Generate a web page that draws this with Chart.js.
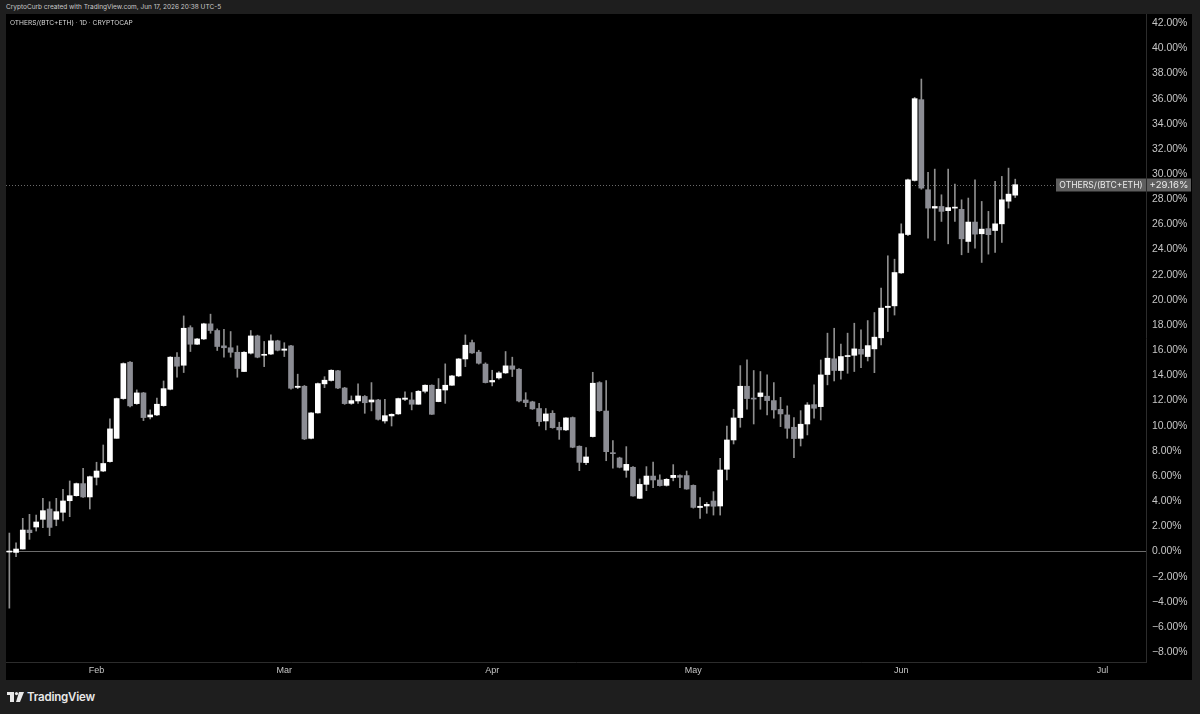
<!DOCTYPE html>
<html>
<head>
<meta charset="utf-8">
<title>OTHERS/(BTC+ETH) 1D</title>
<script src="https://cdn.jsdelivr.net/npm/chart.js@4.4.1/dist/chart.umd.min.js"></script>
<style>
  html, body {
    margin: 0;
    padding: 0;
    width: 1200px;
    height: 714px;
    overflow: hidden;
    background: #1e1e1e;
    font-family: Inter, 'Noto Sans', sans-serif;
  }
  #credit {
    position: absolute;
    left: 6px;
    top: 3px;
    font-size: 6.5px;
    color: #c9c9c9;
    white-space: nowrap;
  }
  #panel {
    position: absolute;
    left: 6px;
    top: 14px;
    width: 1186px;
    height: 666px;
    background: #000;
  }
  #symbol {
    position: absolute;
    left: 4px;
    top: 5px;
    font-size: 6.6px;
    color: #dcdcdc;
    white-space: nowrap;
    z-index: 2;
  }
  #footer {
    position: absolute;
    left: 7px;
    top: 690px;
    height: 14px;
    display: flex;
    align-items: center;
    gap: 3px;
    color: #e8e8e8;
    font-size: 11.5px;
    font-weight: 600;
    letter-spacing: -0.2px;
  }
</style>
</head>
<body>
<div id="credit">CryptoCurb created with TradingView.com, Jun 17, 2026 20:38 UTC-5</div>
<div id="panel">
  <div id="symbol">OTHERS/(BTC+ETH) · 1D · CRYPTOCAP</div>
  <canvas id="chart"></canvas>
</div>
<div id="footer">
  <svg width="17" height="10" viewBox="0 0 17 10">
    <rect x="0" y="0" width="7" height="3" fill="#e8e8e8"/>
    <rect x="3" y="0" width="4" height="10" fill="#e8e8e8"/>
    <circle cx="9.5" cy="1.6" r="1.6" fill="#e8e8e8"/>
    <polygon points="12,0 17,0 13,10 9,10" fill="#e8e8e8"/>
  </svg>
  <span>TradingView</span>
</div>
<script>
// daily slots, Jan 19 -> Jul 7 (empty space on the right like TV)
const startDay = Date.UTC(2026, 0, 19);
const slotCount = 170;
const monthNames = ['Jan', 'Feb', 'Mar', 'Apr', 'May', 'Jun', 'Jul', 'Aug', 'Sep', 'Oct', 'Nov', 'Dec'];
const yTicks = [-8, -6, -4, -2, 0, 2, 4, 6, 8, 10, 12, 14, 16, 18, 20, 22, 24, 26, 28, 30, 32, 34, 36, 38, 40, 42];

const dates = [];
for (let i = 0; i < slotCount; i++) {
  dates.push(new Date(startDay + i * 86400000).toISOString().slice(0, 10));
}

// OHLC in % change (Jan 19 .. Jun 18)
const opens = [
  0, -0.07, 0.2, 1.71, 1.95, 2.56, 3.38, 2.56, 3.12, 4.04,
  4.44, 5.4, 4.34, 5.9, 6.4, 7.15, 9.0, 12.16, 15.05, 11.76,
  12.61, 10.7, 10.86, 11.6, 12.9, 15.45, 14.81, 17.8, 16.48, 16.9,
  18.1, 17.57, 16.35, 16.2, 15.84, 14.31, 15.77, 17.14, 15.6, 15.7,
  16.75, 16.0, 16.35, 13.05, 13.14, 9.0, 11.02, 13.33, 13.6, 14.37,
  13.0, 11.78, 11.97, 12.33, 11.89, 12.05, 10.38, 10.78, 10.94, 12.1,
  12.05, 11.71, 12.74, 13.22, 11.92, 12.84, 13.22, 13.96, 15.31, 16.61,
  15.85, 14.9, 13.48, 13.8, 14.2, 14.76, 14.49, 12.05, 11.9, 11.37,
  10.38, 10.99, 9.88, 9.67, 10.65, 8.37, 7.07, 9.14, 13.43, 11.17,
  7.85, 7.44, 6.46, 6.7, 4.23, 5.34, 6.0, 5.69, 5.26, 5.88,
  6.04, 6.04, 5.26, 3.5, 3.62, 4.02, 3.62, 6.54, 8.87, 10.65,
  13.14, 12.2, 12.32, 12.35, 12.0, 11.3, 10.86, 9.88, 9.0, 10.14,
  11.68, 11.52, 14.07, 15.32, 14.39, 15.5, 15.6, 16.08, 15.5, 16.11,
  16.99, 19.4, 19.53, 22.15, 25.2, 29.5, 35.92, 28.76, 27.3, 27.43,
  27.1, 27.3, 27.2, 24.65, 26.19, 25.26, 25.67, 25.52, 26.05, 27.85,
  28.33,
];
const highs = [
  1.47, 0.7, 2.64, 2.96, 2.9, 4.23, 3.96, 4.23, 4.95, 5.61,
  5.45, 6.62, 6.0, 7.1, 8.47, 10.54, 12.2, 15.0, 15.1, 12.85,
  12.65, 11.26, 12.19, 13.56, 15.5, 15.82, 18.73, 17.95, 16.95, 18.15,
  18.87, 17.7, 17.67, 17.49, 16.35, 15.9, 17.57, 17.2, 16.7, 17.22,
  16.8, 16.6, 16.4, 14.1, 13.2, 11.05, 13.4, 13.9, 14.45, 14.4,
  13.05, 12.37, 13.33, 12.4, 13.43, 12.1, 12.1, 10.95, 12.2, 12.69,
  12.63, 12.8, 13.25, 13.25, 13.75, 14.92, 14.0, 15.35, 17.22, 16.8,
  16.0, 15.0, 14.41, 14.3, 15.9, 15.45, 14.55, 12.63, 11.95, 11.79,
  11.37, 11.2, 10.28, 10.65, 10.7, 8.4, 8.26, 14.25, 13.5, 13.59,
  8.82, 7.5, 8.34, 6.75, 5.77, 6.75, 7.12, 6.1, 5.8, 6.91,
  6.1, 6.4, 5.3, 4.28, 3.9, 4.76, 7.41, 9.98, 11.31, 14.78,
  15.23, 14.39, 14.31, 14.04, 13.43, 12.26, 11.58, 10.65, 11.2, 11.84,
  13.25, 15.23, 17.36, 17.75, 16.5, 17.36, 18.15, 17.62, 18.36, 19.0,
  20.94, 23.51, 23.24, 26.05, 29.6, 36.1, 37.56, 30.14, 30.4, 28.36,
  30.4, 29.21, 27.96, 28.1, 29.55, 27.83, 27.04, 29.42, 29.82, 30.48,
  29.6,
];
const lows = [
  -4.5, -0.4, 0.2, 0.97, 1.63, 1.9, 1.26, 2.05, 2.43, 2.77,
  4.4, 4.3, 3.38, 5.29, 6.35, 7.1, 9.0, 12.1, 11.5, 11.7,
  10.41, 10.54, 10.8, 11.55, 12.85, 13.86, 14.23, 15.9, 16.45, 16.85,
  17.35, 15.98, 15.45, 15.45, 13.86, 14.3, 15.7, 15.4, 14.7, 15.65,
  15.95, 15.5, 12.9, 12.95, 8.9, 8.95, 11.0, 13.03, 13.55, 12.95,
  11.7, 11.7, 11.78, 10.99, 11.18, 10.45, 10.2, 9.98, 10.9, 12.0,
  11.26, 11.7, 12.6, 10.9, 11.9, 11.78, 13.2, 13.9, 14.7, 15.75,
  14.9, 13.4, 13.17, 13.7, 14.15, 13.91, 11.9, 11.52, 11.3, 9.98,
  9.67, 9.8, 8.92, 9.6, 8.25, 6.43, 6.9, 9.1, 11.15, 7.22,
  6.62, 6.65, 5.9, 4.4, 4.2, 4.84, 5.08, 5.2, 5.2, 5.62,
  5.08, 4.95, 3.45, 2.64, 3.04, 2.9, 2.9, 5.69, 8.55, 9.88,
  11.31, 10.14, 11.31, 10.86, 10.6, 9.93, 9.0, 7.46, 8.39, 9.27,
  10.6, 10.46, 13.25, 13.56, 13.7, 14.17, 14.31, 14.62, 15.15, 14.22,
  16.43, 17.49, 18.8, 22.1, 25.1, 29.45, 28.8, 24.91, 24.73, 26.24,
  24.46, 26.24, 23.59, 23.77, 24.12, 22.98, 23.64, 23.77, 24.57, 27.3,
  28.14,
];
const closes = [
  0.02, 0.2, 1.71, 1.5, 2.35, 3.25, 1.92, 3.17, 4.02, 4.44,
  5.4, 4.34, 5.95, 6.4, 7.0, 9.75, 12.16, 14.94, 11.58, 12.61,
  10.65, 10.86, 11.71, 12.95, 15.45, 14.73, 17.75, 16.48, 16.9, 18.1,
  17.57, 16.3, 16.2, 15.84, 14.55, 15.84, 17.14, 15.45, 15.65, 16.75,
  16.0, 16.1, 12.98, 13.14, 8.95, 11.02, 13.35, 13.62, 14.41, 13.0,
  11.76, 12.0, 12.37, 11.83, 12.05, 10.51, 10.8, 10.91, 12.16, 12.2,
  11.71, 12.74, 13.22, 10.91, 12.9, 13.22, 13.96, 15.31, 16.4, 15.79,
  14.97, 13.43, 13.6, 14.2, 14.76, 14.49, 11.97, 11.84, 11.34, 10.33,
  10.94, 9.85, 9.67, 10.62, 8.29, 7.09, 7.52, 13.38, 11.2, 7.94,
  7.78, 6.7, 6.93, 4.42, 5.34, 6.0, 5.69, 5.24, 5.74, 6.06,
  5.9, 4.97, 3.51, 3.6, 3.75, 3.6, 6.48, 8.87, 10.62, 13.14,
  12.16, 12.12, 12.61, 12.0, 11.26, 10.94, 9.8, 8.98, 10.12, 11.65,
  11.39, 14.04, 15.37, 14.39, 15.5, 15.58, 16.11, 15.69, 16.37, 17.04,
  19.35, 19.5, 22.18, 25.26, 29.55, 36.0, 28.89, 27.3, 27.43, 27.04,
  27.34, 27.35, 24.86, 26.19, 25.23, 25.63, 25.19, 26.05, 27.96, 28.41,
  29.16,
];

const upColor = '#ffffff';
const downColor = '#8c8d94';
const wickColor = '#8e8e8e';

const bodies = opens.map((o, i) => [o, closes[i]]);
const wicks = lows.map((l, i) => [l, highs[i]]);
const bodyColors = closes.map((c, i) => (c >= opens[i] ? upColor : downColor));

const fmtPct = (v) => (v < 0 ? '\u2212' : '') + Math.abs(v).toFixed(2) + '%';

// dotted last-price line + the two grey tags on the price scale
const lastPrice = {
  id: 'lastPrice',
  beforeDatasetsDraw(chart) {
    const { ctx, chartArea, scales } = chart;
    const py = Math.round(scales.y.getPixelForValue(closes[closes.length - 1])) + 0.5;
    ctx.save();
    ctx.strokeStyle = '#6a6a6a';
    ctx.lineWidth = 1;
    ctx.setLineDash([1, 2]);
    ctx.beginPath();
    ctx.moveTo(chartArea.left, py);
    ctx.lineTo(chartArea.right, py);
    ctx.stroke();
    ctx.restore();
  },
  afterDraw(chart) {
    const { ctx, chartArea, scales } = chart;
    const last = closes[closes.length - 1];
    const py = Math.round(scales.y.getPixelForValue(last));
    ctx.save();
    ctx.fillStyle = '#5e5e5e';
    ctx.fillRect(chartArea.right - 90, py - 6.5, 90, 13);
    ctx.fillRect(chartArea.right + 1, py - 6.5, 44, 13);
    ctx.fillStyle = '#ececec';
    ctx.font = '8.6px Inter, "Noto Sans", sans-serif';
    ctx.textBaseline = 'middle';
    ctx.textAlign = 'center';
    ctx.fillText('OTHERS/(BTC+ETH)', chartArea.right - 45, py + 0.5);
    ctx.font = '9.6px Inter, "Noto Sans", sans-serif';
    ctx.fillText('+' + last.toFixed(2) + '%', chartArea.right + 23, py + 0.5);
    ctx.restore();
  },
};

new Chart(document.getElementById('chart'), {
  type: 'bar',
  data: {
    labels: dates,
    datasets: [
      {
        label: 'Body',
        data: bodies,
        backgroundColor: bodyColors,
        barThickness: 5,
        minBarLength: 1,
        grouped: false,
        order: 0,
      },
      {
        label: 'Wick',
        data: wicks,
        backgroundColor: wickColor,
        barThickness: 1,
        grouped: false,
        order: 1,
      },
    ],
  },
  options: {
    responsive: true,
    maintainAspectRatio: false,
    animation: false,
    layout: { padding: 0 },
    plugins: {
      legend: { display: false },
      tooltip: { enabled: false },
    },
    scales: {
      x: {
        offset: true,
        grid: { display: false, drawTicks: false },
        border: { display: true, color: '#2c2c2c' },
        ticks: {
          autoSkip: false,
          maxRotation: 0,
          color: '#c6c6c6',
          font: { size: 9 },
          padding: 3,
          callback: (v, i) => (dates[i].endsWith('-01') ? monthNames[+dates[i].slice(5, 7) - 1] : ''),
        },
        afterFit: (s) => {
          s.height = 18;
          s.paddingLeft = 0;
          s.paddingRight = 0;
        },
      },
      y: {
        position: 'right',
        min: -8.78,
        max: 42.73,
        afterBuildTicks: (s) => {
          s.ticks = yTicks.map((v) => ({ value: v }));
        },
        grid: {
          drawTicks: false,
          color: (c) => (c.tick && c.tick.value === 0 ? '#6c6c6c' : 'transparent'),
        },
        border: { display: true, color: '#2c2c2c' },
        ticks: {
          color: '#c6c6c6',
          font: { size: 10.4 },
          padding: 6,
          callback: (v) => fmtPct(v),
        },
        afterFit: (s) => {
          s.width = 46;
          s.paddingTop = 0;
          s.paddingBottom = 0;
        },
      },
    },
  },
  plugins: [lastPrice],
});
</script>
</body>
</html>
